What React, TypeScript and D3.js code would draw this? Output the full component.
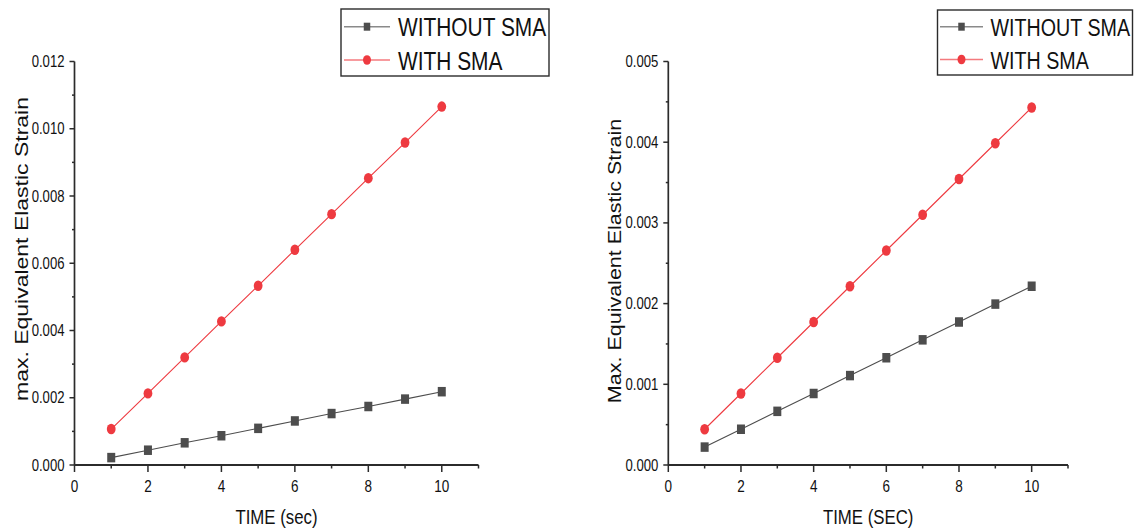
import React from "react";
import * as d3 from "d3";

// time steps (sec)
const time = [1, 2, 3, 4, 5, 6, 7, 8, 9, 10];

// left panel values
const leftWithout = [0.00022, 0.00044, 0.00066, 0.00087, 0.00109, 0.00131, 0.00153, 0.00174, 0.00196, 0.00218];
const leftWith = [0.00107, 0.00213, 0.0032, 0.00427, 0.00533, 0.0064, 0.00746, 0.00853, 0.00959, 0.01066];

// right panel values
const rightWithout = [0.000222, 0.000443, 0.000665, 0.000886, 0.001108, 0.001329, 0.001551, 0.001772, 0.001994, 0.002215];
const rightWith = [0.000443, 0.000886, 0.001329, 0.001772, 0.002215, 0.002658, 0.003101, 0.003544, 0.003987, 0.00443];

const seriesNames = ["WITHOUT SMA", "WITH SMA"];
const xMajorTicks = [0, 2, 4, 6, 8, 10];
const xMinorTicks = [1, 3, 5, 7, 9, 11];

const FONT = "'Liberation Sans', Arial, sans-serif";
const SX = 0.82; // the original figure is squeezed horizontally
const GRAY = "#4d4d4d";
const RED = "#ee3a40";

const Squeezed = ({ x, y, size, anchor = "start", rotate = 0, children }) => (
  <text
    transform={`translate(${x},${y}) scale(${SX},1)${rotate ? ` rotate(${rotate})` : ""}`}
    fontSize={size}
    fontFamily={FONT}
    textAnchor={anchor}
    fill="#111"
  >
    {children}
  </text>
);

const Square = ({ cx, cy, w = 8, h = 9.5, fill }) => (
  <rect x={cx - w / 2} y={cy - h / 2} width={w} height={h} fill={fill} />
);

const Dot = ({ cx, cy, rx = 4.4, ry = 5.2, fill }) => (
  <ellipse cx={cx} cy={cy} rx={rx} ry={ry} fill={fill} />
);

const Panel = ({ cfg }) => {
  const x = d3.scaleLinear().domain([0, 11]).range([cfg.x0, cfg.x1]);
  const y = d3.scaleLinear().domain([0, cfg.yMax]).range([cfg.yBottom, cfg.yTop]);
  const yMajor = d3.range(0, cfg.yMax + cfg.yStep / 2, cfg.yStep);
  const yMinor = yMajor.slice(0, -1).map((v) => v + cfg.yStep / 2);
  const fmt = d3.format(".3f");

  const line = d3
    .line<number>()
    .x((_, i) => x(time[i]))
    .y((d) => y(d));

  const lg = cfg.legend;

  return (
    <g>
      {/* data */}
      <path d={line(cfg.without) || ""} fill="none" stroke={GRAY} strokeWidth={1.1} />
      <path d={line(cfg.with) || ""} fill="none" stroke={RED} strokeWidth={1.1} />
      {cfg.without.map((v, i) => (
        <Square key={"s" + i} cx={x(time[i])} cy={y(v)} fill={GRAY} />
      ))}
      {cfg.with.map((v, i) => (
        <Dot key={"c" + i} cx={x(time[i])} cy={y(v)} fill={RED} />
      ))}

      {/* x axis */}
      <line x1={cfg.x0} x2={cfg.x1} y1={cfg.yBottom} y2={cfg.yBottom} stroke="#2b2b2b" strokeWidth={2} />
      {xMajorTicks.map((t) => (
        <g key={"xm" + t}>
          <line x1={x(t)} x2={x(t)} y1={cfg.yBottom} y2={cfg.yBottom + 7} stroke="#2b2b2b" strokeWidth={1.5} />
          <Squeezed x={x(t)} y={cfg.yBottom + 27} size={16.5} anchor="middle">
            {t}
          </Squeezed>
        </g>
      ))}
      {xMinorTicks.map((t) => (
        <line key={"xn" + t} x1={x(t)} x2={x(t)} y1={cfg.yBottom} y2={cfg.yBottom + 3.5} stroke="#2b2b2b" strokeWidth={1.5} />
      ))}
      <Squeezed x={(cfg.x0 + cfg.x1) / 2} y={cfg.yBottom + 59} size={20.5} anchor="middle">
        {cfg.xLabel}
      </Squeezed>

      {/* y axis */}
      <line x1={cfg.x0} x2={cfg.x0} y1={cfg.yBottom} y2={cfg.yTop} stroke="#2b2b2b" strokeWidth={1.7} />
      {yMajor.map((t) => (
        <g key={"ym" + t}>
          <line x1={cfg.x0 - 5} x2={cfg.x0} y1={y(t)} y2={y(t)} stroke="#2b2b2b" strokeWidth={1.5} />
          <Squeezed x={cfg.x0 - 10} y={y(t) + 5.5} size={16} anchor="end">
            {fmt(t)}
          </Squeezed>
        </g>
      ))}
      {yMinor.map((t) => (
        <line key={"yn" + t} x1={cfg.x0 - 2.5} x2={cfg.x0} y1={y(t)} y2={y(t)} stroke="#2b2b2b" strokeWidth={1.5} />
      ))}
      <Squeezed x={cfg.yLabelX} y={cfg.yLabelY} size={cfg.yLabelSize} anchor="middle" rotate={-90}>
        {cfg.yLabel}
      </Squeezed>

      {/* legend */}
      <rect x={lg.x} y={lg.y} width={lg.w} height={lg.h} fill="#fff" stroke="#2b2b2b" strokeWidth={1.4} />
      <line x1={lg.l1} x2={lg.l2} y1={lg.r1} y2={lg.r1} stroke="#8a8a8a" strokeWidth={1.4} />
      <Square cx={(lg.l1 + lg.l2) / 2} cy={lg.r1} w={6.5} h={8} fill={GRAY} />
      <Squeezed x={lg.tx} y={lg.r1 + 9.5} size={lg.size}>
        {seriesNames[0]}
      </Squeezed>
      <line x1={lg.l1} x2={lg.l2} y1={lg.r2} y2={lg.r2} stroke="#f47a7e" strokeWidth={1.4} />
      <Dot cx={(lg.l1 + lg.l2) / 2} cy={lg.r2} rx={4} ry={4.8} fill={RED} />
      <Squeezed x={lg.tx} y={lg.r2 + 9.5} size={lg.size}>
        {seriesNames[1]}
      </Squeezed>
    </g>
  );
};

const leftCfg = {
  x0: 74.5,
  x1: 478.5,
  yTop: 61.5,
  yBottom: 465,
  yMax: 0.012,
  yStep: 0.002,
  without: leftWithout,
  with: leftWith,
  xLabel: "TIME (sec)",
  yLabel: "max. Equivalent Elastic Strain",
  yLabelX: 28,
  yLabelY: 249,
  yLabelSize: 23,
  legend: { x: 341, y: 9, w: 208, h: 67, l1: 344, l2: 390, tx: 398, r1: 26.7, r2: 60, size: 25.5 },
};

const rightCfg = {
  x0: 668.3,
  x1: 1068,
  yTop: 61.5,
  yBottom: 465,
  yMax: 0.005,
  yStep: 0.001,
  without: rightWithout,
  with: rightWith,
  xLabel: "TIME (SEC)",
  yLabel: "Max. Equivalent Elastic Strain",
  yLabelX: 621,
  yLabelY: 261,
  yLabelSize: 21.5,
  legend: { x: 937.5, y: 10, w: 195, h: 65, l1: 940, l2: 983, tx: 990.5, r1: 26.7, r2: 59.5, size: 24 },
};

export default function App() {
  return (
    <svg
      width={1141}
      height={530}
      style={{ position: "absolute", left: 0, top: 0, background: "#fff" }}
    >
      <rect width={1141} height={530} fill="#fff" />
      <Panel cfg={leftCfg} />
      <Panel cfg={rightCfg} />
    </svg>
  );
}
